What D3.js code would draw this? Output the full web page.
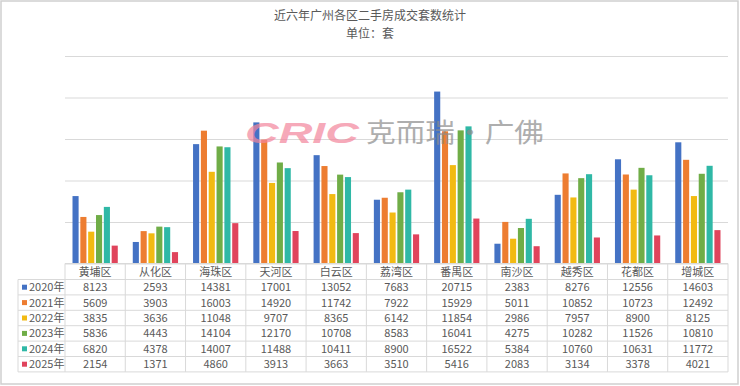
<!DOCTYPE html>
<html>
<head>
<meta charset="utf-8">
<script src="https://cdn.jsdelivr.net/npm/d3@7"></script>
<style>
  body { margin: 0; background: #fff; }
  svg { display: block; font-family: "Noto Sans CJK SC", "Microsoft YaHei", sans-serif; }
</style>
</head>
<body>
<div id="viz-container"></div>
<script>
let w = 740;
let h = 386;

// data
let districts = ["黄埔区", "从化区", "海珠区", "天河区", "白云区", "荔湾区", "番禺区", "南沙区", "越秀区", "花都区", "增城区"];
let years = ["2020年", "2021年", "2022年", "2023年", "2024年", "2025年"];
let v2020 = [8123, 2593, 14381, 17001, 13052, 7683, 20715, 2383, 8276, 12556, 14603];
let v2021 = [5609, 3903, 16003, 14920, 11742, 7922, 15929, 5011, 10852, 10723, 12492];
let v2022 = [3835, 3636, 11048, 9707, 8365, 6142, 11854, 2986, 7957, 8900, 8125];
let v2023 = [5836, 4443, 14104, 12170, 10708, 8583, 16041, 4275, 10282, 11526, 10810];
let v2024 = [6820, 4378, 14007, 11488, 10411, 8900, 16522, 5384, 10760, 10631, 11772];
let v2025 = [2154, 1371, 4860, 3913, 3663, 3510, 5416, 2083, 3134, 3378, 4021];
let yTicks = [0, 5000, 10000, 15000, 20000, 25000];

let series = [v2020, v2021, v2022, v2023, v2024, v2025];
let colors = ["#4472C4", "#ED7D31", "#F2BA12", "#70AD47", "#2FB8A6", "#E0445C"];

let plotLeft = 65, plotRight = 728, plotTop = 56, base = 263.5;
let rowH = 15.4, headH = 16;

let viz = d3.select("#viz-container")
  .append("svg")
  .attr("width", w)
  .attr("height", h);

// frame
viz.append("rect")
  .attr("x", 1).attr("y", 1)
  .attr("width", w - 3).attr("height", h - 3)
  .attr("fill", "#fff")
  .attr("stroke", "#cfcfcf")
  .attr("stroke-width", 1.5);

// titles
viz.append("text")
  .attr("x", 370).attr("y", 20)
  .attr("text-anchor", "middle")
  .attr("font-size", 12)
  .attr("fill", "#595959")
  .text("近六年广州各区二手房成交套数统计");
viz.append("text")
  .attr("x", 370).attr("y", 37.5)
  .attr("text-anchor", "middle")
  .attr("font-size", 12)
  .attr("fill", "#595959")
  .text("单位：套");

let xScale = d3.scaleBand().domain(districts).range([plotLeft, plotRight]);
let xInner = d3.scaleBand().domain(years).range([7.5, xScale.bandwidth() - 7.5]).paddingInner(0.22);
let yScale = d3.scaleLinear().domain([0, 25000]).range([base, plotTop]);

// gridlines
let yAxis = d3.axisLeft(yScale).tickValues(yTicks).tickSize(-(plotRight - plotLeft)).tickFormat("");
let yAxisGroup = viz.append("g")
  .attr("transform", "translate(" + plotLeft + ",0)")
  .call(yAxis);
yAxisGroup.select(".domain").remove();
yAxisGroup.selectAll(".tick line").attr("stroke", "#d9d9d9").attr("stroke-width", 1);

// bars
let groups = viz.selectAll(".datagroup").data(districts).enter()
  .append("g")
  .attr("class", "datagroup")
  .attr("transform", d => "translate(" + xScale(d) + ",0)");

groups.selectAll("rect")
  .data((d, i) => series.map((s, j) => ({ year: years[j], value: s[i], color: colors[j] })))
  .enter()
  .append("rect")
  .attr("x", d => xInner(d.year))
  .attr("y", d => yScale(d.value))
  .attr("width", xInner.bandwidth())
  .attr("height", d => base - yScale(d.value))
  .attr("fill", d => d.color);

// watermark, drawn over the bars
let wm = viz.append("g").attr("opacity", 0.7);
wm.append("text")
  .attr("x", 245).attr("y", 143)
  .attr("font-family", "Liberation Sans, sans-serif")
  .attr("font-weight", "bold")
  .attr("font-style", "italic")
  .attr("font-size", 29)
  .attr("textLength", 114)
  .attr("lengthAdjust", "spacingAndGlyphs")
  .attr("fill", "#F3859C")
  .text("CRIC");
wm.append("text")
  .attr("x", 366).attr("y", 142)
  .attr("font-size", 26)
  .attr("textLength", 178)
  .attr("lengthAdjust", "spacingAndGlyphs")
  .attr("fill", "#8c8c8c")
  .text("克而瑞·广佛");

// data table
let tableLeft = 18;
let tableBottom = base + headH + rowH * years.length;
let lineColor = "#d9d9d9";
let tbl = viz.append("g").attr("font-size", 11).attr("fill", "#595959");

// horizontal lines
tbl.append("line").attr("x1", plotLeft).attr("x2", plotRight).attr("y1", base).attr("y2", base).attr("stroke", lineColor);
for (let r = 0; r <= years.length; r++) {
  let y = base + headH + r * rowH;
  tbl.append("line").attr("x1", tableLeft).attr("x2", plotRight).attr("y1", y).attr("y2", y).attr("stroke", lineColor);
}
// vertical lines
tbl.append("line").attr("x1", tableLeft).attr("x2", tableLeft).attr("y1", base + headH).attr("y2", tableBottom).attr("stroke", lineColor);
districts.forEach(d => {
  tbl.append("line").attr("x1", xScale(d)).attr("x2", xScale(d)).attr("y1", base).attr("y2", tableBottom).attr("stroke", lineColor);
});
tbl.append("line").attr("x1", plotRight).attr("x2", plotRight).attr("y1", base).attr("y2", tableBottom).attr("stroke", lineColor);

// header
tbl.selectAll(".head").data(districts).enter()
  .append("text")
  .attr("x", d => xScale(d) + xScale.bandwidth() / 2)
  .attr("y", base + headH / 2 + 4)
  .attr("text-anchor", "middle")
  .text(d => d);

// rows
years.forEach((yr, j) => {
  let cy = base + headH + j * rowH + rowH / 2;
  tbl.append("rect")
    .attr("x", 22).attr("y", cy - 2.5)
    .attr("width", 5).attr("height", 5)
    .attr("fill", colors[j]);
  tbl.append("text")
    .attr("x", 29).attr("y", cy + 4)
    .text(yr);
  tbl.selectAll(".cell" + j).data(series[j]).enter()
    .append("text")
    .attr("x", (d, i) => xScale(districts[i]) + xScale.bandwidth() / 2)
    .attr("y", cy + 4)
    .attr("text-anchor", "middle")
    .text(d => d);
});
</script>
</body>
</html>
